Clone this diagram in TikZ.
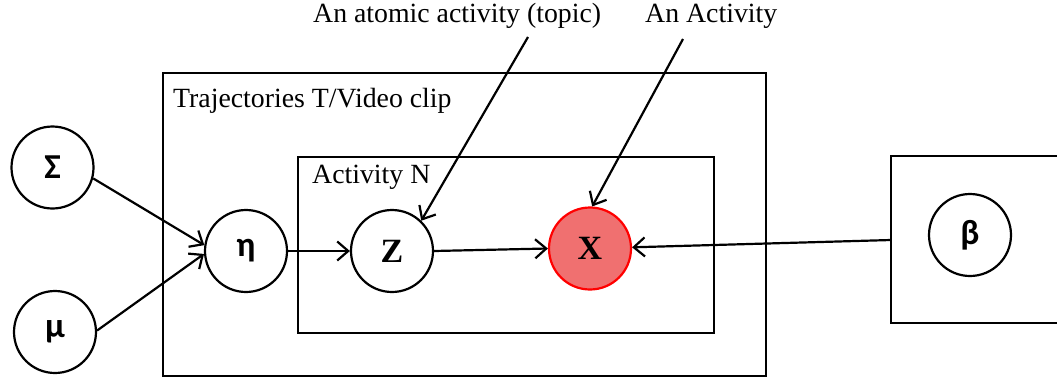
\documentclass[tikz,border=0pt]{standalone}
\usepackage{fontspec}
\setmainfont{Liberation Serif}
\newfontfamily\grk{Carlito}
\newcommand\gv[1]{{\fontsize{35}{37}\selectfont\grk\bfseries #1}}
\usetikzlibrary{arrows.meta}
\definecolor{xfill}{RGB}{240,112,112}
\definecolor{xdraw}{RGB}{255,0,0}
\tikzset{
  var/.style={circle,draw=black,line width=2.2pt,minimum size=82pt,inner sep=0pt,fill=white},
  grkvar/.style={var},
  latvar/.style={var,font=\bfseries\fontsize{34}{36}\selectfont},
  obsvar/.style={latvar,fill=xfill,draw=xdraw},
  plate/.style={draw=black,line width=2.2pt},
  lbl/.style={font=\fontsize{27.8}{30}\selectfont,inner sep=0pt,anchor=base west},
  edge/.style={line width=2.2pt,-{Straight Barb[length=11pt,width=19pt,line width=2.2pt]}}
}
\begin{document}
\begin{tikzpicture}[x=1pt,y=-1pt]
\useasboundingbox (0,0) rectangle (1057,381);
% plates
\draw[plate] (163,73) rectangle (766,376);
\draw[plate] (298,157) rectangle (714,333);
\draw[plate] (1060,156) -- (891,156) -- (891,323) -- (1060,323);
\coordinate (bbox) at (891,240);
% labels
\node[lbl] (trj) at (173,107) {Trajectories T/Video clip};
\node[lbl] (act) at (312,183) {Activity N};
\node[lbl] (ann1) at (313,22) {An atomic activity (topic)};
\node[lbl] (ann2) at (645,22) {An Activity};
\coordinate (a1) at (528,37);
\coordinate (a2) at (683,39);
% variables
\node[grkvar] (S) at (52.5,167.5) {\gv{Σ}};
\node[grkvar] (M) at (55,332) {\gv{μ}};
\node[grkvar] (E) at (246,251) {\gv{η}};
\node[latvar] (Z) at (392,251) {Z};
\node[obsvar] (X) at (590,248.5) {X};
\node[grkvar] (B) at (970,235) {\gv{β}};
% edges
\draw[edge] (S.-15) -- (E.172);
\draw[edge] (M.2) -- (E.184);
\draw[edge] (E.east) -- (Z.west);
\draw[edge] (Z.east) -- (X.west);
\draw[edge] (bbox) -- (X);
\draw[edge] (a1) -- (Z.46);
\draw[edge] (a2) -- (X.87);
\end{tikzpicture}
\end{document}
